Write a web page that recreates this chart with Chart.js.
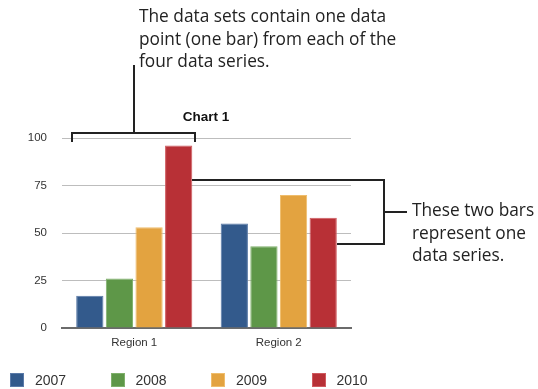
<!DOCTYPE html>
<html>
<head>
<meta charset="utf-8">
<script src="https://cdn.jsdelivr.net/npm/chart.js@4"></script>
<style>
    html, body { margin: 0; padding: 0; background: #fff; }
    #wrap { position: relative; width: 538px; height: 389px; overflow: hidden; }
    #chart { position: absolute; left: 0; top: 0; }
    .note {
        position: absolute;
        font-family: "Open Sans", sans-serif;
        font-size: 17.3px;
        line-height: 22.5px;
        color: #222;
        white-space: nowrap;
    }
    #legend {
        position: absolute;
        left: 10px;
        top: 373px;
        font-family: "Liberation Sans", Arial, sans-serif;
        font-size: 14px;
        color: #333;
    }
    .legend-item { position: absolute; top: 0; white-space: nowrap; }
    .legend-box { position: absolute; left: 0; top: 0; width: 14px; height: 14px; box-sizing: border-box; }
    .legend-text { position: absolute; left: 25px; top: -1px; line-height: 17px; }
</style>
</head>
<body>
<div id="wrap">
    <canvas id="chart" width="538" height="389"></canvas>
    <div class="note" style="left:139px; top:5px;">The data sets contain one data<br>point (one bar) from each of the<br>four data series.</div>
    <div class="note" style="left:412px; top:199px;">These two bars<br>represent one<br>data series.</div>
    <div id="legend"></div>
</div>
<script>
// Regions along the x axis, one series per year
const regions = ['Region 1', 'Region 2'];
const years = ['2007', '2008', '2009', '2010'];
const values2007 = [17, 55];
const values2008 = [26, 43];
const values2009 = [53, 70];
const values2010 = [96, 58];
const yTicks = [0, 25, 50, 75, 100];

const seriesValues = [values2007, values2008, values2009, values2010];
const fillColors = ['#335a8c', '#5e9748', '#e3a340', '#b83036'];
const edgeColors = ['#5a7aa8', '#7fb06b', '#efbd6c', '#cf5a5f'];

// Brackets and leader lines, placed from the bars themselves
const calloutLines = {
    id: 'calloutLines',
    afterDraw(chart) {
        const ctx = chart.ctx;
        const firstBar = chart.getDatasetMeta(0).data[0];
        const lastBar = chart.getDatasetMeta(3).data[0];
        const lastBar2 = chart.getDatasetMeta(3).data[1];
        const y = chart.scales.y;
        const half = firstBar.width / 2;

        ctx.save();
        ctx.strokeStyle = '#222';
        ctx.lineWidth = 2;
        ctx.lineCap = 'butt';

        // bracket over the Region 1 group
        const bx0 = Math.round(firstBar.x - half - 4);
        const bx1 = Math.round(lastBar.x + half + 3);
        const by = 133;
        ctx.beginPath();
        ctx.moveTo(bx0, by + 9);
        ctx.lineTo(bx0, by);
        ctx.lineTo(bx1, by);
        ctx.lineTo(bx1, by + 9);
        ctx.moveTo(Math.round((bx0 + bx1) / 2), by);
        ctx.lineTo(Math.round((bx0 + bx1) / 2), 65);
        ctx.stroke();

        // bracket joining the two 2010 bars
        const topY = Math.round(y.getPixelForValue(78));
        const botY = Math.round(y.getPixelForValue(44));
        const rx = 384;
        ctx.beginPath();
        ctx.moveTo(Math.round(lastBar.x + half), topY);
        ctx.lineTo(rx, topY);
        ctx.lineTo(rx, botY);
        ctx.lineTo(Math.round(lastBar2.x + half), botY);
        ctx.moveTo(rx, Math.round((topY + botY) / 2));
        ctx.lineTo(407, Math.round((topY + botY) / 2));
        ctx.stroke();

        // chart title
        ctx.fillStyle = '#111';
        ctx.font = 'bold 13.5px "Liberation Sans", Arial, sans-serif';
        ctx.textAlign = 'center';
        ctx.textBaseline = 'middle';
        ctx.fillText('Chart 1', 206, 117);
        ctx.restore();
    }
};

const datasets = years.map((year, i) => ({
    label: year,
    data: seriesValues[i],
    backgroundColor: fillColors[i],
    borderColor: edgeColors[i],
    borderWidth: 1,
    categoryPercentage: 0.82,
    barPercentage: 0.92
}));

new Chart(document.getElementById('chart'), {
    type: 'bar',
    data: { labels: regions, datasets: datasets },
    options: {
        responsive: false,
        animation: false,
        layout: { padding: { left: 0, right: 187, top: 138, bottom: 31 } },
        plugins: {
            legend: { display: false },
            tooltip: { enabled: false }
        },
        scales: {
            x: {
                grid: { display: false },
                border: { display: true, color: '#6b6b6b', width: 2 },
                ticks: {
                    color: '#333',
                    padding: 0,
                    font: { family: '"Liberation Sans", Arial, sans-serif', size: 11.5 }
                },
                afterFit: s => { s.height = 30; }
            },
            y: {
                min: 0,
                max: 100,
                afterBuildTicks: s => { s.ticks = yTicks.map(v => ({ value: v })); },
                grid: { color: '#bdbdbd', lineWidth: 1, drawTicks: false },
                border: { display: false },
                ticks: {
                    color: '#333',
                    padding: 15,
                    font: { family: '"Liberation Sans", Arial, sans-serif', size: 11.5 }
                },
                afterFit: s => { s.width = 62; }
            }
        }
    },
    plugins: [calloutLines]
});

// Legend row under the chart
const legend = document.getElementById('legend');
years.forEach((year, i) => {
    const item = document.createElement('div');
    item.className = 'legend-item';
    item.style.left = (i * 100.5) + 'px';
    item.innerHTML = `<span class="legend-box" style="background:${fillColors[i]}; border:1px solid ${edgeColors[i]}"></span><span class="legend-text">${year}</span>`;
    legend.appendChild(item);
});
</script>
</body>
</html>
